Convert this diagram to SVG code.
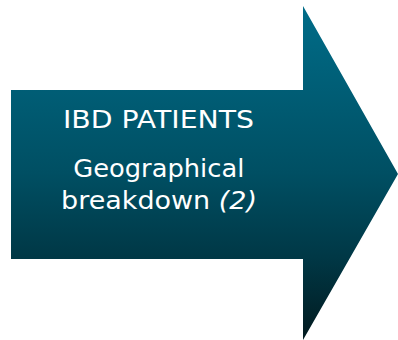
<svg xmlns="http://www.w3.org/2000/svg" width="398" height="340" viewBox="0 0 398 340">
  <defs>
    <linearGradient id="g" gradientUnits="userSpaceOnUse" x1="0" y1="6" x2="0" y2="340">
      <stop offset="0" stop-color="#006C88"/>
      <stop offset="0.5" stop-color="#004F63"/>
      <stop offset="0.75" stop-color="#003846"/>
      <stop offset="1" stop-color="#021A1F"/>
    </linearGradient>
    <style>
      .t { font-family: "DejaVu Sans", Verdana, sans-serif; font-size: 25px; fill: #FFFFFF; text-anchor: middle; }
    </style>
  </defs>
  <rect width="398" height="340" fill="#FFFFFF"/>
  <g id="arrow">
    <path d="M11,90 H303 V6 L398,174 L303,340 V259 H11 Z" fill="url(#g)"/>
    <text class="t" x="158.5" y="128" textLength="191" lengthAdjust="spacingAndGlyphs">IBD PATIENTS</text>
    <text class="t" x="158.8" y="177" textLength="171" lengthAdjust="spacingAndGlyphs">Geographical</text>
    <text class="t" x="159" y="208.5" textLength="196" lengthAdjust="spacingAndGlyphs">breakdown <tspan font-style="italic">(2)</tspan></text>
  </g>
</svg>
